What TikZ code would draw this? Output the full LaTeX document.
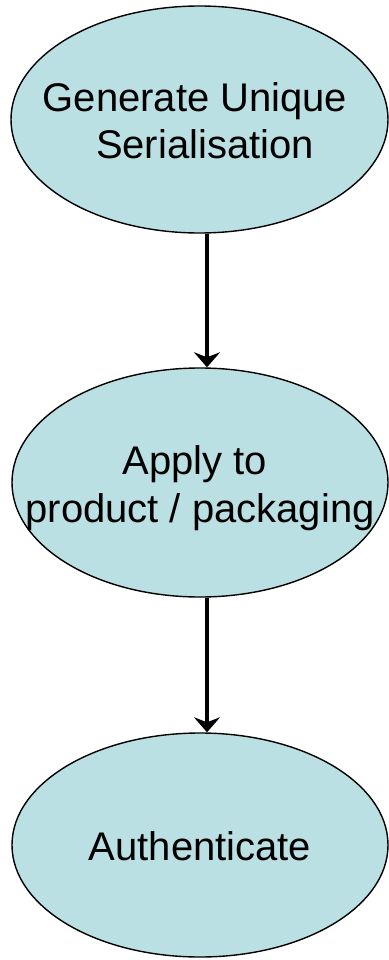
\documentclass[tikz,border=0pt]{standalone}
\usepackage{fontspec}
\setmainfont{Liberation Sans}
\usetikzlibrary{shapes.geometric,arrows.meta}
\definecolor{fillc}{RGB}{187,224,227}
\begin{document}
\begin{tikzpicture}[x=1pt,y=-1pt,
  bubble/.style={ellipse,draw=black,line width=1.4pt,fill=fillc,inner sep=0pt},
  lbl/.style={anchor=base,inner sep=0pt,font=\fontsize{40}{48}\selectfont},
  arr/.style={line width=3.2pt,-{Stealth[length=15pt,width=26pt,inset=5pt]}}]
\useasboundingbox (0,0) rectangle (388,960);
\node[bubble,minimum width=377pt,minimum height=227pt] (e1) at (199.5,119.5) {};
\node[bubble,minimum width=376pt,minimum height=229pt] (e2) at (200,482.5) {};
\node[bubble,minimum width=376pt,minimum height=224pt] (e3) at (200,845) {};
\node[lbl] (t1a) at (195,112) {Generate Unique};
\node[lbl] (t1b) at (205,159) {Serialisation};
\node[lbl] (t2a) at (195,474) {Apply to};
\node[lbl] (t2b) at (200,522) {product / packaging};
\node[lbl] (t3) at (200,860) {Authenticate};
\coordinate (ax) at (207,0);
\draw[arr] (e1.south -| ax) -- (e2.north -| ax);
\draw[arr] (e2.south -| ax) -- (e3.north -| ax);
\end{tikzpicture}
\end{document}
